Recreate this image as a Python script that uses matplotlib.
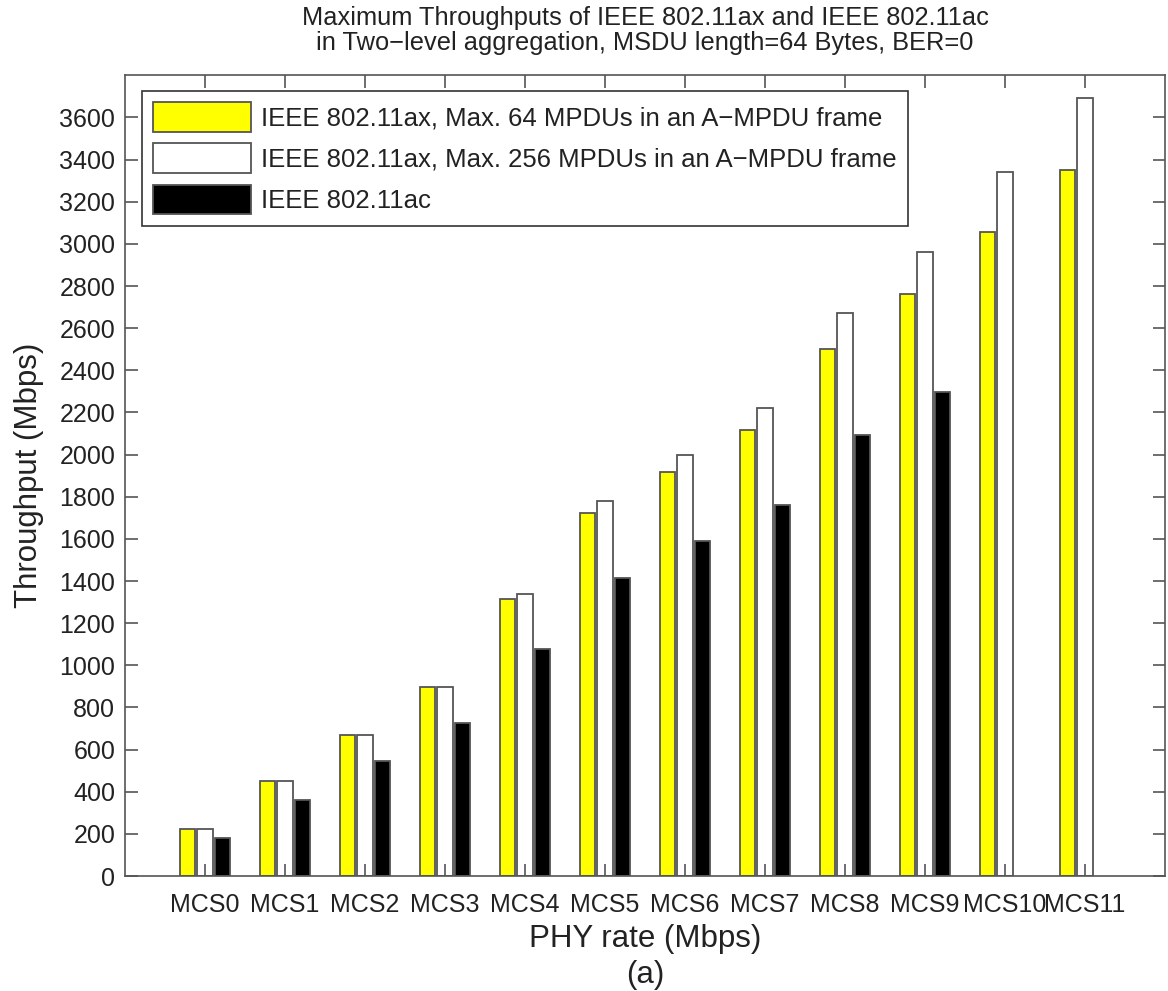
import numpy as np
import matplotlib
matplotlib.use("Agg")
import matplotlib.pyplot as plt

plt.rcParams['font.family'] = ['Liberation Sans', 'DejaVu Sans']

# values (Mbps)
mcs_labels = ['MCS0', 'MCS1', 'MCS2', 'MCS3', 'MCS4', 'MCS5',
              'MCS6', 'MCS7', 'MCS8', 'MCS9', 'MCS10', 'MCS11']
ax_64 = [223, 450, 668, 895, 1313, 1722, 1917, 2119, 2499, 2760, 3055, 3352]
ax_256 = [223, 450, 668, 895, 1340, 1779, 1996, 2222, 2671, 2960, 3340, 3690]
ac = [180, 362, 545, 725, 1078, 1416, 1588, 1759, 2091, 2296, np.nan, np.nan]

series_names = ['IEEE 802.11ax, Max. 64 MPDUs in an A\u2212MPDU frame',
                'IEEE 802.11ax, Max. 256 MPDUs in an A\u2212MPDU frame',
                'IEEE 802.11ac']

fig = plt.figure(figsize=(11.68, 9.91), dpi=100)
ax = fig.add_axes([0.107, 0.116, 0.8904, 0.808])

x = np.arange(1, len(mcs_labels) + 1)
off = 2.0 / 9
w = 0.19
edge = '#555555'
ax.bar(x - off, ax_64, w, color='#ffff00', edgecolor=edge, linewidth=1.3, label=series_names[0])
ax.bar(x, ax_256, w, color='white', edgecolor=edge, linewidth=1.3, label=series_names[1])
ax.bar(x + off, ac, w, color='black', edgecolor=edge, linewidth=1.3, label=series_names[2])

ax.set_xlim(0, 13)
ax.set_ylim(0, 3800)
ax.set_yticks(np.arange(0, 3601, 200))
ax.set_xticks(x)
ax.set_xticklabels(mcs_labels)

for s in ax.spines.values():
    s.set_color('#555555')
    s.set_linewidth(1.2)
ax.tick_params(direction='in', length=9, width=1.2, color='#555555',
               labelsize=18, labelcolor='#222222',
               top=True, right=True)
ax.tick_params(axis='x', pad=12)
ax.tick_params(axis='y', pad=7)

ax.set_ylabel('Throughput (Mbps)', fontsize=22.5, color='#222222', labelpad=11)
ax.set_xlabel('PHY rate (Mbps)', fontsize=22.5, color='#222222', labelpad=5)
ax.set_title('Maximum Throughputs of IEEE 802.11ax and IEEE 802.11ac\n'
             'in Two\u2212level aggregation, MSDU length=64 Bytes, BER=0',
             fontsize=18.3, color='#222222', pad=18, linespacing=1.08)
fig.text(0.5523, 0.008, '(a)', fontsize=22.5, color='#222222', ha='center')

leg = ax.legend(loc='upper left', bbox_to_anchor=(0.016, 0.981), borderaxespad=0,
                fontsize=18.5, fancybox=False, framealpha=1, edgecolor='#333333',
                handlelength=3.8, handleheight=1.4, handletextpad=0.4,
                labelspacing=0.45, borderpad=0.45)
leg.get_frame().set_linewidth(1.2)
for t in leg.get_texts():
    t.set_color('#222222')

fig.savefig('out.png', dpi=100)
